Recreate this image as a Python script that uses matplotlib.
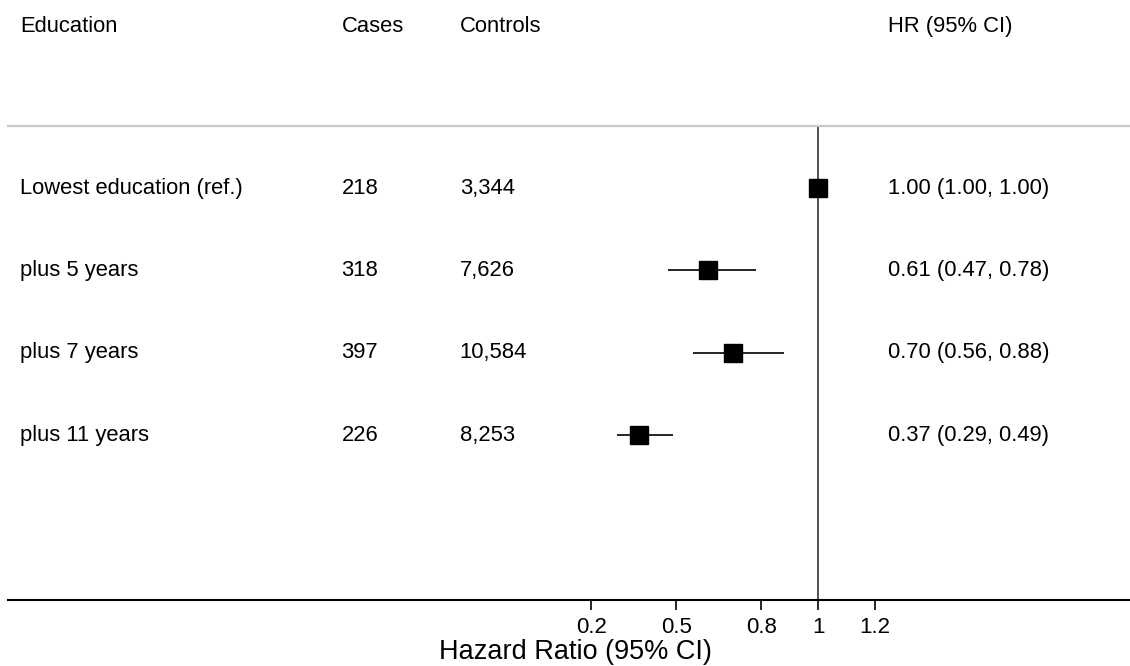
import matplotlib.pyplot as plt

# Datos de la tabla
groups = ["Lowest education (ref.)", "plus 5 years", "plus 7 years", "plus 11 years"]
cases = [218, 318, 397, 226]
controls = ["3,344", "7,626", "10,584", "8,253"]
hr = [1.00, 0.61, 0.70, 0.37]
ci_low = [1.00, 0.47, 0.56, 0.29]
ci_high = [1.00, 0.78, 0.88, 0.49]
xticks = [0.2, 0.5, 0.8, 1, 1.2]

plt.rcParams['font.family'] = ['Liberation Sans', 'DejaVu Sans']

fig = plt.figure(figsize=(11.3, 6.66), dpi=100)
ax = fig.add_axes([8 / 1130, 66 / 666, 1122 / 1130, 474 / 666])

rows = list(range(1, len(groups) + 1))

# Intervalos y estimaciones
for y, lo, hi in zip(rows, ci_low, ci_high):
    ax.plot([lo, hi], [y, y], color='black', lw=1.2, solid_capstyle='butt')
ax.plot(hr, rows, 's', color='black', markersize=13.4, zorder=3)

# Linea de referencia en HR = 1
ax.axvline(1, color='#333333', lw=1.2, zorder=1)

ax.set_xlim(-1.853, 2.0975)
ax.set_ylim(6.0, 0.247)

# Columnas de texto
col_x = {'group': -1.811, 'cases': -0.679, 'controls': -0.262, 'hr': 1.2454}
fs = 15.8
head_y = -0.965
ax.text(col_x['group'], head_y, "Education", fontsize=fs, va='center', clip_on=False)
ax.text(col_x['cases'], head_y, "Cases", fontsize=fs, va='center', clip_on=False)
ax.text(col_x['controls'], head_y, "Controls", fontsize=fs, va='center', clip_on=False)
ax.text(col_x['hr'], head_y, "HR (95% CI)", fontsize=fs, va='center', clip_on=False)

for y, g, c, k, h, lo, hi in zip(rows, groups, cases, controls, hr, ci_low, ci_high):
    ax.text(col_x['group'], y, g, fontsize=fs, va='center')
    ax.text(col_x['cases'], y, str(c), fontsize=fs, va='center')
    ax.text(col_x['controls'], y, k, fontsize=fs, va='center')
    ax.text(col_x['hr'], y, f"{h:.2f} ({lo:.2f}, {hi:.2f})", fontsize=fs, va='center')

# Ejes
for side in ['left', 'right']:
    ax.spines[side].set_visible(False)
ax.spines['top'].set_color('#c8c8c8')
ax.spines['top'].set_linewidth(1.6)
ax.spines['bottom'].set_linewidth(1.5)
ax.set_yticks([])
ax.set_xticks(xticks)
ax.set_xticklabels([f"{t:g}" for t in xticks])
ax.tick_params(axis='x', length=7.2, width=1.2, labelsize=16, pad=5)

ax.set_xlabel("Hazard Ratio (95% CI)", fontsize=19.5)
ax.xaxis.set_label_coords(0.5053, -0.1097)
ax.xaxis.label.set_va('center')

fig.savefig("out.png", dpi=100)
